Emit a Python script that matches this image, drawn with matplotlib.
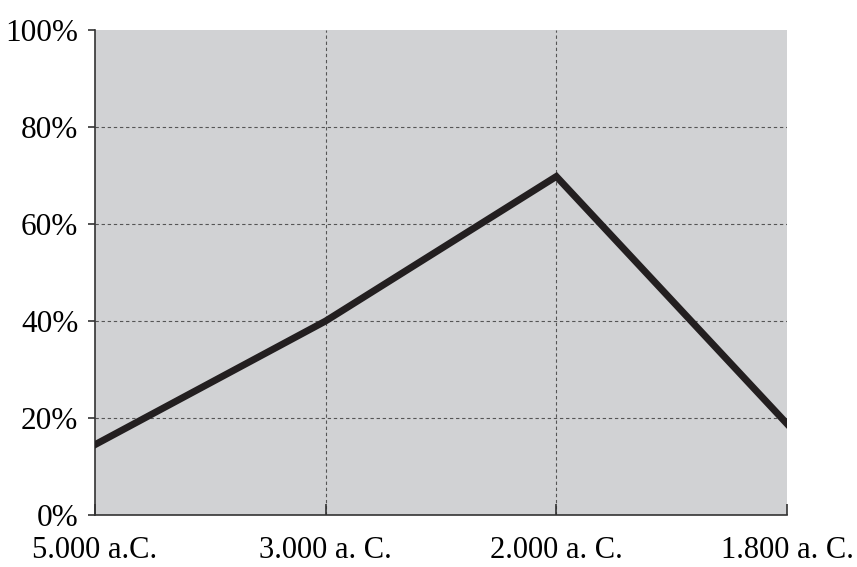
import numpy as np
import matplotlib.pyplot as plt

plt.rcParams['font.family'] = ['Liberation Serif', 'DejaVu Serif']

periods = ["5.000 a.C.", "3.000 a. C.", "2.000 a. C.", "1.800 a. C."]
values = [14.5, 40, 69.8, 18.8]
yticks = [0, 20, 40, 60, 80, 100]

fig = plt.figure(figsize=(8.57, 5.67), dpi=100)
ax = fig.add_axes([95/857, 52/567, 692/857, 485/567])
ax.set_facecolor('#d1d2d4')

x = np.arange(len(periods))
for y in yticks[1:-1]:
    ax.axhline(y, color='#555555', lw=0.8, ls=(0, (3, 2.5)), zorder=1)
for xi in x[1:-1]:
    ax.axvline(xi, color='#555555', lw=0.8, ls=(0, (3, 2.5)), zorder=1)

ax.plot(x, values, color='#231f20', lw=5, solid_joinstyle='miter', zorder=3)

ax.set_xlim(0, len(periods) - 1)
ax.set_ylim(0, 100)
ax.set_xticks(x)
ax.set_xticklabels(periods)
ax.set_yticks(yticks)
ax.set_yticklabels([f"{v}%" for v in yticks])

for s in ['top', 'right']:
    ax.spines[s].set_visible(False)
for s in ['left', 'bottom']:
    ax.spines[s].set_color('#333333')
    ax.spines[s].set_linewidth(1.2)

ax.tick_params(axis='y', direction='out', length=5, width=1.2, color='#333333',
               labelsize=22.5, pad=7)
ax.tick_params(axis='x', direction='in', length=8, width=1.2, color='#333333',
               labelsize=22, pad=15)

fig.savefig('out.png', dpi=100)
